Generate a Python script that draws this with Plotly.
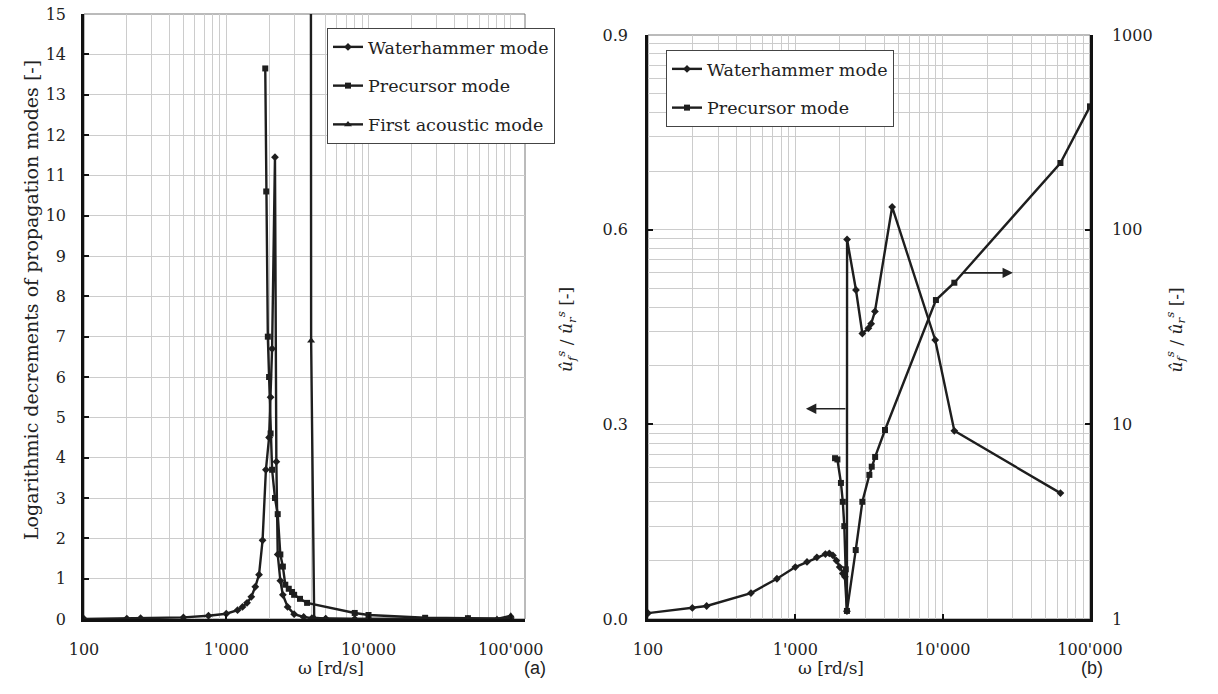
import math
import plotly.graph_objects as go

# ---------------- data: chart (a) ----------------
wh_a_x = [100, 200, 250, 500, 750, 1000, 1200, 1300, 1400, 1500, 1600, 1700, 1800, 1900, 2000, 2050,
          2100, 2200, 2250, 2300, 2400, 2500, 2700, 3000, 3500, 4000, 5000, 8000, 10000, 25000, 50000, 100000]
wh_a_y = [0, 0.01, 0.02, 0.04, 0.08, 0.13, 0.22, 0.3, 0.4, 0.55, 0.8, 1.1, 1.95, 3.7, 4.5, 5.5,
          6.7, 11.45, 3.9, 1.6, 0.95, 0.6, 0.3, 0.12, 0.05, 0.02, 0.01, 0, 0, 0, 0, 0]

pc_a_x = [1880, 1910, 1960, 2000, 2050, 2100, 2200, 2300, 2400, 2500, 2600, 2750, 2900, 3000, 3300,
          3700, 8000, 10000, 25000, 50000, 100000]
pc_a_y = [13.65, 10.6, 7.0, 6.0, 4.6, 3.7, 3.0, 2.6, 1.6, 1.3, 0.85, 0.75, 0.67, 0.6, 0.5,
          0.4, 0.15, 0.1, 0.03, 0.02, 0.01]

fa_a_x = [3900, 3950, 4150, 5000, 8000, 10000, 25000, 50000, 80000, 100000]
fa_a_y = [40, 6.9, 0.03, 0.01, 0, 0, 0, 0, 0, 0.08]

# ---------------- data: chart (b) ----------------
wh_b_x = [100, 200, 250, 500, 750, 1000, 1200, 1400, 1600, 1700, 1800, 1900, 2000, 2100, 2170,
          2240, 2245, 2580, 2850, 3130, 3270, 3470, 4540, 8900, 12000, 63000]
wh_b_y = [0.009, 0.017, 0.02, 0.04, 0.062, 0.08, 0.088, 0.095, 0.1, 0.101, 0.098, 0.09, 0.08, 0.07, 0.065,
          0.012, 0.585, 0.507, 0.44, 0.448, 0.455, 0.474, 0.635, 0.43, 0.29, 0.194]

pc_b_x = [1860, 1930, 2040, 2100, 2150, 2200, 2240, 2570, 2850, 3180, 3300, 3480, 4060, 9000, 12000, 63000, 100000]
pc_b_y = [6.7, 6.6, 5.0, 4.0, 3.0, 1.8, 1.1, 2.26, 4.0, 5.5, 6.06, 6.8, 9.35, 43.5, 53.4, 220, 430]

x_tick_vals = [100, 1000, 10000, 100000]
x_tick_text = ["100", "1'000", "10'000", "100'000"]
minor_vals = [k * 10 ** d for d in (2, 3, 4) for k in range(2, 10)]
ylog_minor = [k * 10 ** d for d in (0, 1, 2) for k in range(2, 10)]

ya_ticks = list(range(0, 16))
yb_ticks = [0.0, 0.3, 0.6, 0.9]
yb_text = ["0.0", "0.3", "0.6", "0.9"]
yc_ticks = [1, 10, 100, 1000]

# arrows (data coordinates)
arrow_l = dict(x0=2240, x1=1180, y=0.324)
arrow_r = dict(x0=13300, x1=30000, y=60)

W, H = 1218, 694
SERIF = "DejaVu Serif"
LINE = "#1e1e1e"
GRID = "#cccccc"

fig = go.Figure()

common = dict(mode="lines+markers", line=dict(color=LINE, width=2.4))
fig.add_trace(go.Scatter(x=wh_a_x, y=wh_a_y, name="Waterhammer mode", xaxis="x", yaxis="y",
                         marker=dict(symbol="diamond", size=6, color=LINE), legend="legend",
                         legendgroup="a1", **common))
fig.add_trace(go.Scatter(x=pc_a_x, y=pc_a_y, name="Precursor mode", xaxis="x", yaxis="y",
                         marker=dict(symbol="square", size=6, color=LINE), legend="legend",
                         legendgroup="a2", **common))
fig.add_trace(go.Scatter(x=fa_a_x, y=fa_a_y, name="First acoustic mode", xaxis="x", yaxis="y",
                         marker=dict(symbol="triangle-up", size=7, color=LINE), legend="legend",
                         legendgroup="a3", **common))
fig.add_trace(go.Scatter(x=wh_b_x, y=wh_b_y, name="Waterhammer mode", xaxis="x2", yaxis="y2",
                         marker=dict(symbol="diamond", size=6, color=LINE), legend="legend2",
                         legendgroup="b1", **common))
fig.add_trace(go.Scatter(x=pc_b_x, y=pc_b_y, name="Precursor mode", xaxis="x2", yaxis="y3",
                         marker=dict(symbol="square", size=6, color=LINE), legend="legend2",
                         legendgroup="b2", **common))

def px_x(p):
    return p / W

def px_y(p):
    return 1 - p / H

tickfont = dict(family=SERIF, size=16, color="#222")

def xaxis_cfg(rng):
    return dict(type="log", range=rng, tickvals=x_tick_vals, ticktext=x_tick_text,
                showgrid=True, gridcolor=GRID, gridwidth=1,
                minor=dict(tickvals=minor_vals, showgrid=True, gridcolor=GRID, gridwidth=1, ticks=""),
                showline=True, linecolor="#111", linewidth=2.5, ticks="inside", ticklen=5, tickwidth=2,
                tickcolor="#111", tickfont=tickfont, ticklabelstandoff=14, zeroline=False, automargin=False)

fig.update_layout(
    width=W, height=H, margin=dict(l=0, r=0, t=0, b=0),
    paper_bgcolor="white", plot_bgcolor="white",
    xaxis=dict(domain=[px_x(84), px_x(525)], anchor="y", **xaxis_cfg([2, 5.1])),
    yaxis=dict(domain=[px_y(619), px_y(14)], anchor="x", range=[0, 15], tickvals=ya_ticks,
               showgrid=True, gridcolor=GRID, showline=True, linecolor="#111", linewidth=2.5,
               ticks="inside", ticklen=5, tickwidth=2, tickcolor="#111", tickfont=tickfont,
               ticklabelstandoff=12, zeroline=False, automargin=False),
    xaxis2=dict(domain=[px_x(648), px_x(1090)], anchor="y2", **xaxis_cfg([2, 5])),
    yaxis2=dict(domain=[px_y(619), px_y(35)], anchor="x2", range=[0, 0.9], tickvals=yb_ticks,
                ticktext=yb_text, showgrid=False, showline=True, linecolor="#111", linewidth=2.5,
                ticks="inside", ticklen=5, tickwidth=2, tickcolor="#111", tickfont=tickfont,
                ticklabelstandoff=14, zeroline=False, automargin=False),
    yaxis3=dict(type="log", range=[0, 3], overlaying="y2", side="right", anchor="x2",
                tickvals=yc_ticks, showgrid=True, gridcolor=GRID,
                minor=dict(tickvals=ylog_minor, showgrid=True, gridcolor=GRID, ticks=""),
                showline=True, linecolor="#111", linewidth=2.5, ticks="inside", ticklen=5, tickwidth=2,
                tickcolor="#111", tickfont=tickfont, ticklabelstandoff=16, zeroline=False, automargin=False),
    legend=dict(x=px_x(327), y=px_y(28), xanchor="left", yanchor="top", bgcolor="white",
                bordercolor="#444", borderwidth=1, font=dict(family=SERIF, size=17.5, color="#222"),
                tracegroupgap=13, itemwidth=30),
    legend2=dict(x=px_x(666), y=px_y(50), xanchor="left", yanchor="top", bgcolor="white",
                 bordercolor="#444", borderwidth=1, font=dict(family=SERIF, size=17.5, color="#222"),
                 tracegroupgap=13, itemwidth=30),
    showlegend=True,
)

# gray frame (top/right borders)
for xr, yr in (("x domain", "y domain"), ("x2 domain", "y2 domain")):
    fig.add_shape(type="rect", xref=xr, yref=yr, x0=0, x1=1, y0=0, y1=1,
                  line=dict(color="#777", width=1), layer="below")

# arrows
fig.add_annotation(xref="x2", yref="y2", axref="x2", ayref="y2",
                   x=math.log10(arrow_l["x1"]), y=arrow_l["y"],
                   ax=math.log10(arrow_l["x0"]), ay=arrow_l["y"],
                   showarrow=True, arrowhead=2, arrowsize=1.3, arrowwidth=1.6, arrowcolor="#222", text="")
fig.add_annotation(xref="x2", yref="y3", axref="x2", ayref="y3",
                   x=math.log10(arrow_r["x1"]), y=math.log10(arrow_r["y"]),
                   ax=math.log10(arrow_r["x0"]), ay=math.log10(arrow_r["y"]),
                   showarrow=True, arrowhead=2, arrowsize=1.3, arrowwidth=1.6, arrowcolor="#222", text="")

titlefont = dict(family=SERIF, size=17, color="#222")
fig.add_annotation(xref="paper", yref="paper", x=px_x(296), y=px_y(680), text="ω [rd/s]",
                   showarrow=False, font=titlefont)
fig.add_annotation(xref="paper", yref="paper", x=px_x(866), y=px_y(680), text="ω [rd/s]",
                   showarrow=False, font=titlefont)
fig.add_annotation(xref="paper", yref="paper", x=px_x(535), y=px_y(680), text="(a)",
                   showarrow=False, font=dict(family="Liberation Sans", size=18, color="#222"))
fig.add_annotation(xref="paper", yref="paper", x=px_x(1105), y=px_y(680), text="(b)",
                   showarrow=False, font=dict(family="Liberation Sans", size=18, color="#222"))
fig.add_annotation(xref="paper", yref="paper", x=px_x(18), y=px_y(300),
                   text="Logarithmic decrements of propagation modes [-]", textangle=-90,
                   showarrow=False, font=dict(family=SERIF, size=19, color="#222"))
uhat = "<i>û</i><sub><i>f</i></sub><sup><i>s</i></sup> / <i>û</i><sub><i>r</i></sub><sup><i>s</i></sup> [-]"
fig.add_annotation(xref="paper", yref="paper", x=px_x(566), y=px_y(330), text=uhat, textangle=-90,
                   showarrow=False, font=titlefont)
fig.add_annotation(xref="paper", yref="paper", x=px_x(1190), y=px_y(330), text=uhat, textangle=-90,
                   showarrow=False, font=titlefont)

fig.write_html("out.html")
